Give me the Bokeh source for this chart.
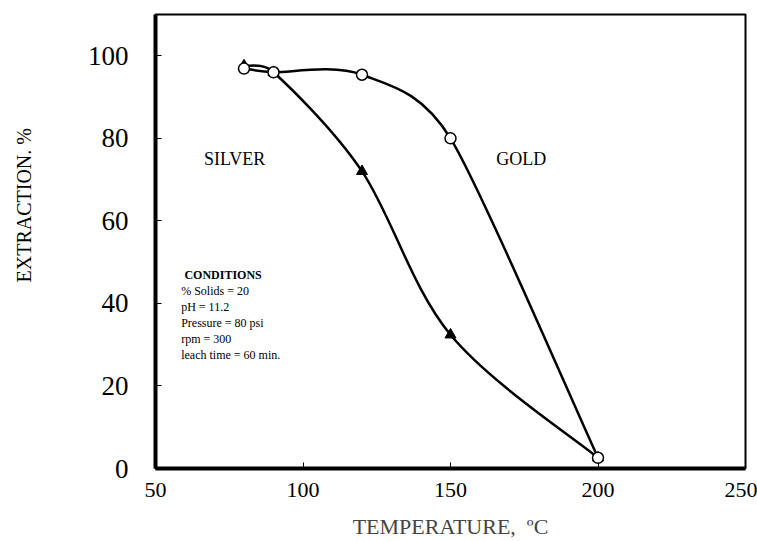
import math
from bokeh.plotting import figure
from bokeh.models import Label, Range1d, FixedTicker, Title
from bokeh.embed import file_html
from bokeh.resources import INLINE

# ---- data ----
gold_temp = [80, 90, 120, 150, 200]
gold_ext = [96.9, 96.0, 95.4, 80.0, 2.6]
silver_temp = [80, 90, 120, 150, 200]
silver_ext = [97.6, 96.0, 72.0, 32.4, 2.6]
x_ticks = [50, 100, 150, 200, 250]
y_ticks = [0, 20, 40, 60, 80, 100]
conditions = ["% Solids = 20", "pH = 11.2", "Pressure = 80 psi", "rpm = 300", "leach time = 60 min."]

FONT = "Liberation Serif"
X_RANGE = (50, 250)
Y_RANGE = (0, 110)
FRAME_W, FRAME_H = 590, 455
SX = FRAME_W / (X_RANGE[1] - X_RANGE[0])   # px per data unit, used for smoothing weights
SY = FRAME_H / (Y_RANGE[1] - Y_RANGE[0])


def smooth_segments(xs, ys):
    """Spreadsheet-style smoothed line drawn as cubic Bezier segments through the data points."""
    n = len(xs)

    def plen(dx, dy):
        return math.hypot(dx * SX, dy * SY)

    d = [plen(xs[i + 1] - xs[i], ys[i + 1] - ys[i]) for i in range(n - 1)]

    def arm(i):
        ip = max(i - 1, 0)
        inn = min(i + 1, n - 1)
        tx, ty = xs[inn] - xs[ip], ys[inn] - ys[ip]
        tl = plen(tx, ty)
        length = tl / 6.0
        if i > 0:
            length = min(length, d[i - 1] / 2.0)
        if i < n - 1:
            length = min(length, d[i] / 2.0)
        k = length / tl if tl > 0 else 0.0
        return tx * k, ty * k

    out = dict(x0=[], y0=[], x1=[], y1=[], cx0=[], cy0=[], cx1=[], cy1=[])
    for i in range(n - 1):
        ax0, ay0 = arm(i)
        ax1, ay1 = arm(i + 1)
        out["x0"].append(xs[i]); out["y0"].append(ys[i])
        out["x1"].append(xs[i + 1]); out["y1"].append(ys[i + 1])
        out["cx0"].append(xs[i] + ax0); out["cy0"].append(ys[i] + ay0)
        out["cx1"].append(xs[i + 1] - ax1); out["cy1"].append(ys[i + 1] - ay1)
    return out


p = figure(width=757, height=541, output_backend="svg", toolbar_location=None,
           x_range=Range1d(*X_RANGE), y_range=Range1d(*Y_RANGE),
           min_border_left=155, min_border_right=12, min_border_top=14, min_border_bottom=72)
p.xgrid.visible = False
p.ygrid.visible = False
p.background_fill_color = "white"
p.border_fill_color = "white"
p.outline_line_color = "black"
p.outline_line_width = 2

for ax in (p.xaxis[0], p.yaxis[0]):
    ax.axis_line_width = 4
    ax.axis_line_color = "black"
    ax.major_tick_in = 6
    ax.major_tick_out = 0
    ax.minor_tick_line_color = None
    ax.major_label_text_font = FONT
    ax.major_label_text_color = "black"

p.xaxis.major_label_text_font_size = "22px"
p.yaxis.major_label_text_font_size = "27px"
p.xaxis.ticker = FixedTicker(ticks=x_ticks)
p.yaxis.ticker = FixedTicker(ticks=y_ticks)
p.xaxis.major_label_standoff = 14
p.yaxis.major_label_standoff = 27
p.xaxis.axis_label = "TEMPERATURE,\u00a0 ºC"
p.xaxis.axis_label_text_font = FONT
p.xaxis.axis_label_text_font_style = "normal"
p.xaxis.axis_label_text_font_size = "22px"
p.xaxis.axis_label_standoff = 14

# blank spacer between the y axis and its title, so the title sits near the page edge
spacer = Title(text=" ", standoff=33, text_font_size="10px")
p.add_layout(spacer, "left")
ytitle = Title(text="EXTRACTION. %", align="left", offset=186, standoff=8,
               text_font=FONT, text_font_style="normal", text_font_size="20px",
               text_color="black")
p.add_layout(ytitle, "left")

# smoothed curves
g = smooth_segments(gold_temp, gold_ext)
s = smooth_segments(silver_temp, silver_ext)
p.bezier(x0="x0", y0="y0", x1="x1", y1="y1", cx0="cx0", cy0="cy0", cx1="cx1", cy1="cy1",
         source=s, line_color="black", line_width=2.5)
p.bezier(x0="x0", y0="y0", x1="x1", y1="y1", cx0="cx0", cy0="cy0", cx1="cx1", cy1="cy1",
         source=g, line_color="black", line_width=2.5)

# markers
p.scatter(silver_temp, silver_ext, marker="triangle", size=11,
          fill_color="black", line_color="black")
p.scatter(gold_temp, gold_ext, marker="circle", size=11,
          fill_color="white", line_color="black", line_width=1.5)

# labels
p.add_layout(Label(x=76.8, y=75, text="SILVER", text_font=FONT, text_font_size="18px",
                   text_align="center", text_baseline="middle", text_color="black"))
p.add_layout(Label(x=174, y=75, text="GOLD", text_font=FONT, text_font_size="18px",
                   text_align="center", text_baseline="middle", text_color="black"))
p.add_layout(Label(x=59.8, y=47.0, text="CONDITIONS", text_font=FONT, text_font_size="12px",
                   text_font_style="bold", text_align="left", text_baseline="middle",
                   text_color="black"))
for i, line in enumerate(conditions):
    p.add_layout(Label(x=58.7, y=43.0 - i * 3.85, text=line, text_font=FONT,
                       text_font_size="12px", text_align="left", text_baseline="middle",
                       text_color="black"))

open("out.html", "w").write(file_html(p, INLINE))
